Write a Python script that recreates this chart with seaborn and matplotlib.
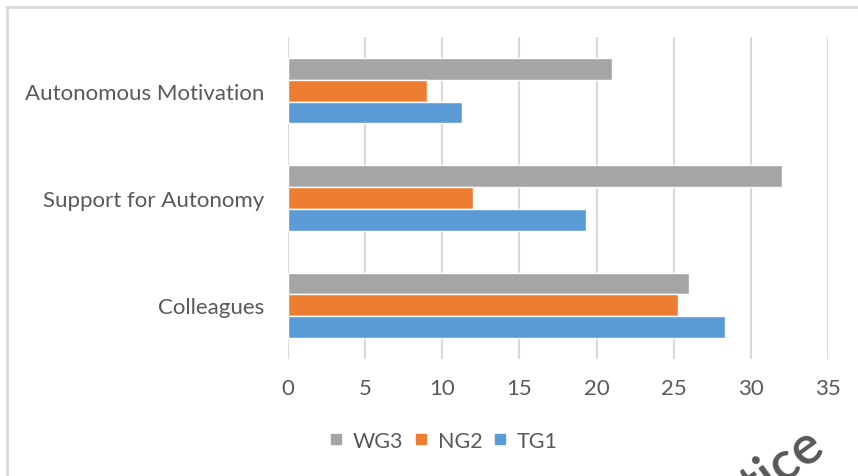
import pandas as pd
import numpy as np
import matplotlib.pyplot as plt
import seaborn as sns
from matplotlib.lines import Line2D

# Data
categories = ['Autonomous Motivation', 'Support for Autonomy', 'Colleagues']
groups = ['WG3', 'NG2', 'TG1']
wg3 = [21.0, 32.0, 26.0]
ng2 = [9.0, 12.0, 25.3]
tg1 = [11.3, 19.3, 28.3]
colors = ['#A5A5A5', '#ED7D31', '#5B9BD5']
xticks = [0, 5, 10, 15, 20, 25, 30, 35]

df = pd.DataFrame({
    'Category': categories * 3,
    'Group': ['WG3'] * 3 + ['NG2'] * 3 + ['TG1'] * 3,
    'Value': wg3 + ng2 + tg1,
})

sns.set_style('white')
plt.rcParams['font.family'] = ['Lato', 'DejaVu Sans']
text_col = '#595959'
grid_col = '#D9D9D9'
fs = 16

fig = plt.figure(figsize=(8.58, 4.77), dpi=100)
ax = fig.add_axes([288 / 858, 1 - 360 / 477, 540 / 858, 322 / 477])

sns.barplot(data=df, x='Value', y='Category', hue='Group', order=categories,
            hue_order=groups, palette=colors, orient='h', width=0.61,
            saturation=1, ax=ax, legend=False)

ax.set_xlim(0, 35)
ax.set_xticks(xticks)
ax.set_xlabel('')
ax.set_ylabel('')
ax.grid(axis='x', color=grid_col, linewidth=1.5)
ax.set_axisbelow(True)
for s in ax.spines.values():
    s.set_visible(False)
ax.tick_params(axis='both', length=0, labelsize=fs, labelcolor=text_col)
ax.tick_params(axis='x', pad=14)
ax.tick_params(axis='y', pad=17)

# legend
handles = [Line2D([0], [0], marker='s', linestyle='', markersize=7.5,
                  markerfacecolor=c, markeredgecolor=c) for c in colors]
fig.legend(handles, groups, loc='center', bbox_to_anchor=(443 / 858, 1 - 442 / 477),
           ncol=3, frameon=False, fontsize=15.5, labelcolor=text_col,
           handlelength=0.7, handletextpad=0.45, columnspacing=0.45)

# chart frame (top and left edge visible)
fig.add_artist(Line2D([7 / 858, 1], [1 - 8 / 477, 1 - 8 / 477], color=grid_col,
                      linewidth=2, transform=fig.transFigure))
fig.add_artist(Line2D([7 / 858, 7 / 858], [0, 1 - 8 / 477], color=grid_col,
                      linewidth=2, transform=fig.transFigure))

# partial watermark in the corner
fig.text(818 / 858, 1 - 440 / 477, 'tice', rotation=36, fontsize=39,
         color='#3a3a3a', ha='right', va='center', rotation_mode='anchor',
         fontweight='semibold', alpha=0.85)

fig.savefig('out.png', dpi=100)
